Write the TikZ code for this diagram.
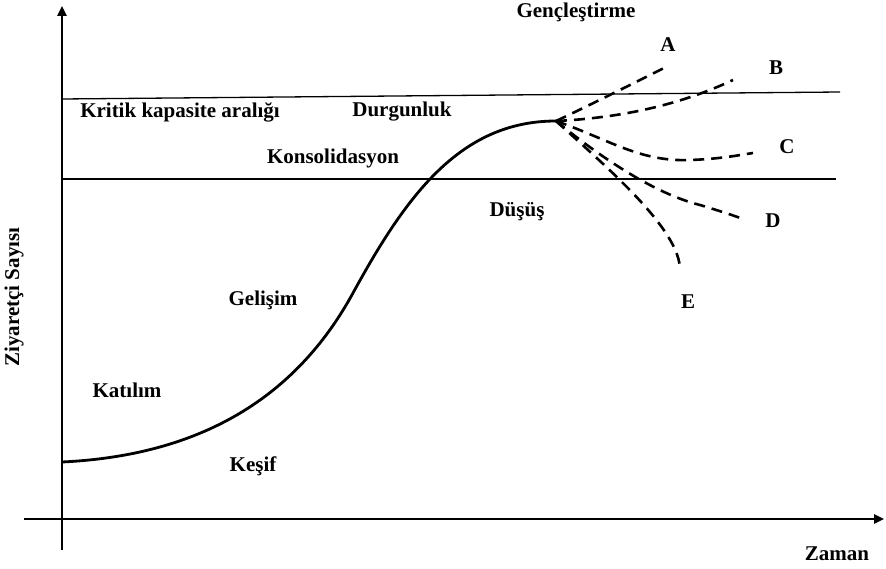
\documentclass[tikz,border=0pt]{standalone}
\usepackage{fontspec}
\setmainfont{Liberation Serif}
\usetikzlibrary{arrows.meta}
\begin{document}
\begin{tikzpicture}[x=1pt,y=-1pt,
  lbl/.style={font=\bfseries\fontsize{21}{24}\selectfont, inner sep=0pt},
  axis/.style={line width=2.4pt, -{Triangle[length=10pt,width=9pt]}},
  level/.style={line width=1.3pt},
  life/.style={line width=2.8pt},
  branch/.style={line width=2.6pt, dash pattern=on 11pt off 7pt}]
\useasboundingbox (0,0) rectangle (886,569);
% axes
\coordinate (yb) at (62,550);
\coordinate (yt) at (62,6);
\coordinate (xl) at (24,519);
\coordinate (xr) at (884,519);
\draw[axis] (yb) -- (yt);
\draw[axis] (xl) -- (xr);
% level lines
\coordinate (u1) at (62,99);
\coordinate (u2) at (840,92);
\coordinate (l1) at (62,179);
\coordinate (l2) at (836,179);
\draw[level] (u1) -- (u2);
\draw[level] (l1) -- (l2);
% life cycle curve
\coordinate (s) at (62,462);
\coordinate (m) at (353,293);
\coordinate (p) at (556,121);
\draw[life] (s) .. controls (210,455) and (300,390) .. (m)
  .. controls (406,196) and (460,121) .. (p);
% branches
\coordinate (ea) at (666,67);
\coordinate (eb) at (733,80);
\coordinate (ec) at (753,153);
\coordinate (ed) at (743,219);
\coordinate (ee) at (680,270);
\draw[branch] (p) .. controls (590,105) and (630,85) .. (ea);
\draw[branch] (p) .. controls (620,118) and (680,105) .. (eb);
\draw[branch] (p) .. controls (610,140) and (640,162) .. (690,160) .. controls (720,159) and (740,155) .. (ec);
\draw[branch] (p) .. controls (610,165) and (660,195) .. (700,205) .. controls (720,211) and (735,216) .. (ed);
\draw[branch] (p) .. controls (610,170) and (680,230) .. (ee);
% labels
\node[lbl] (gen) at (576,12) {Gençleştirme};
\node[lbl] (la) at (668,45) {A};
\node[lbl] (lb) at (776,68) {B};
\node[lbl] (lc) at (787,147) {C};
\node[lbl] (ld) at (773,221) {D};
\node[lbl] (le) at (688,302) {E};
\node[lbl] (kka) at (180,112) {Kritik kapasite aralığı};
\node[lbl] (dur) at (402,112) {Durgunluk};
\node[lbl] (kon) at (333,158) {Konsolidasyon};
\node[lbl] (dus) at (517,212) {Düşüş};
\node[lbl] (gel) at (263,300) {Gelişim};
\node[lbl] (kat) at (127,390) {Katılım};
\node[lbl] (kes) at (253,466) {Keşif};
\node[lbl] (zam) at (837,554) {Zaman};
\node[lbl, rotate=90] (zs) at (14,297) {Ziyaretçi Sayısı};
\end{tikzpicture}
\end{document}
